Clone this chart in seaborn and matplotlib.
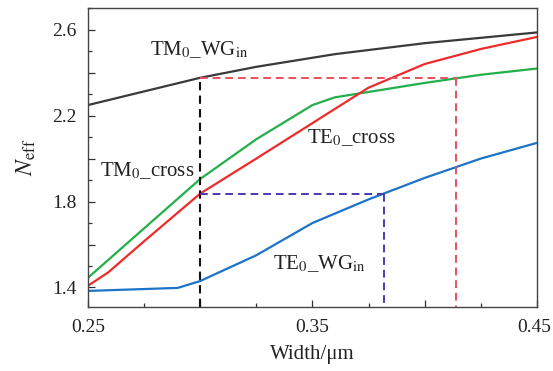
import numpy as np
import pandas as pd
import seaborn as sns
import matplotlib
matplotlib.use("Agg")
import matplotlib.pyplot as plt
import matplotlib.transforms as mtransforms
from matplotlib.ticker import MultipleLocator, FuncFormatter

# ---- data ----
tm_wg_x = [0.25, 0.30, 0.325, 0.36, 0.40, 0.45]
tm_wg_y = [2.249, 2.376, 2.427, 2.486, 2.537, 2.587]

tm_cross_x = [0.25, 0.275, 0.30, 0.325, 0.35, 0.36, 0.375, 0.40, 0.425, 0.45]
tm_cross_y = [1.445, 1.675, 1.905, 2.09, 2.249, 2.285, 2.31, 2.352, 2.39, 2.419]

te_cross_x = [0.25, 0.259, 0.275, 0.30, 0.325, 0.35, 0.375, 0.40, 0.425, 0.45]
te_cross_y = [1.408, 1.47, 1.615, 1.837, 2.00, 2.165, 2.33, 2.44, 2.51, 2.566]

te_wg_x = [0.25, 0.29, 0.30, 0.325, 0.35, 0.375, 0.40, 0.425, 0.45]
te_wg_y = [1.384, 1.398, 1.43, 1.55, 1.70, 1.81, 1.91, 2.00, 2.073]

# guide lines
w_start = 0.30
n_tm = 2.376
w_tm_match = 0.414
n_te = 1.837
w_te_match = 0.382
y_floor = 1.31

x_ticks = [0.25, 0.35, 0.45]
y_ticks = [1.4, 1.8, 2.2, 2.6]

sns.set_style("ticks")
plt.rcParams['font.family'] = ['Liberation Serif', 'DejaVu Serif']
plt.rcParams['mathtext.fontset'] = 'stix'

fig = plt.figure(figsize=(5.53, 3.71), dpi=100)
ax = fig.add_axes([0.159, 0.173, 0.812, 0.805])

def line(x, y, color):
    df = pd.DataFrame({"x": x, "y": y})
    sns.lineplot(data=df, x="x", y="y", color=color, lw=1.6, ax=ax, sort=False)

line(tm_wg_x, tm_wg_y, "#3a3a3a")
line(tm_cross_x, tm_cross_y, "#23b04a")
line(te_cross_x, te_cross_y, "#ee2b2b")
line(te_wg_x, te_wg_y, "#1b74c8")

dash = (0, (4, 2.5))
ax.plot([w_start, w_start], [y_floor, n_tm], color="#111111", lw=1.5, ls=dash)
ax.plot([w_start, w_tm_match], [n_tm, n_tm], color="#e8505b", lw=1.4, ls=dash)
ax.plot([w_tm_match, w_tm_match], [n_tm, y_floor], color="#e8505b", lw=1.4, ls=dash)
ax.plot([w_start, w_te_match], [n_te, n_te], color="#4a3bb0", lw=1.4, ls=dash)
ax.plot([w_te_match, w_te_match], [n_te, y_floor], color="#4a3bb0", lw=1.4, ls=dash)

ax.set_xlim(0.25, 0.45)
ax.set_ylim(y_floor, 2.70)

ax.xaxis.set_major_locator(MultipleLocator(0.05))
ax.xaxis.set_minor_locator(MultipleLocator(0.025))
ax.yaxis.set_major_locator(MultipleLocator(0.2))
ax.yaxis.set_minor_locator(MultipleLocator(0.1))

def xfmt(v, p):
    for t in x_ticks:
        if abs(v - t) < 1e-6:
            return f"{t:.2f}"
    return ""

def yfmt(v, p):
    for t in y_ticks:
        if abs(v - t) < 1e-6:
            return f"{t:.1f}"
    return ""

ax.xaxis.set_major_formatter(FuncFormatter(xfmt))
ax.yaxis.set_major_formatter(FuncFormatter(yfmt))

ax.tick_params(which="both", direction="in", colors="#333333", labelcolor="#222222",
               labelsize=14)
ax.tick_params(which="major", length=5, width=0.9)
ax.tick_params(which="minor", length=3, width=0.9)
ax.tick_params(axis="x", pad=9)
ax.tick_params(axis="y", pad=8)
for s in ax.spines.values():
    s.set_visible(True)
    s.set_color("#444444")
    s.set_linewidth(1.0)

# keep the last x tick label inside the canvas
fig.canvas.draw()
shift = mtransforms.ScaledTranslation(-3 / 100, 0, fig.dpi_scale_trans)
for lab in ax.get_xticklabels():
    if lab.get_text() == f"{x_ticks[-1]:.2f}":
        lab.set_transform(lab.get_transform() + shift)

ax.set_xlabel("Width/μm", fontsize=15, color="#222222", labelpad=6)
ax.set_ylabel(r"$N_{\mathrm{eff}}$", fontsize=17, color="#222222", labelpad=10)

tkw = dict(fontsize=15, color="#222222", va="center", ha="left")
ax.text(0.2776, 2.506, r"TM$_0$_WG$_\mathrm{in}$", **tkw)
ax.text(0.2553, 1.945, r"TM$_0$_cross", **tkw)
ax.text(0.3475, 2.095, r"TE$_0$_cross", **tkw)
ax.text(0.3324, 1.51, r"TE$_0$_WG$_\mathrm{in}$", **tkw)

fig.savefig("out.png", dpi=100)
